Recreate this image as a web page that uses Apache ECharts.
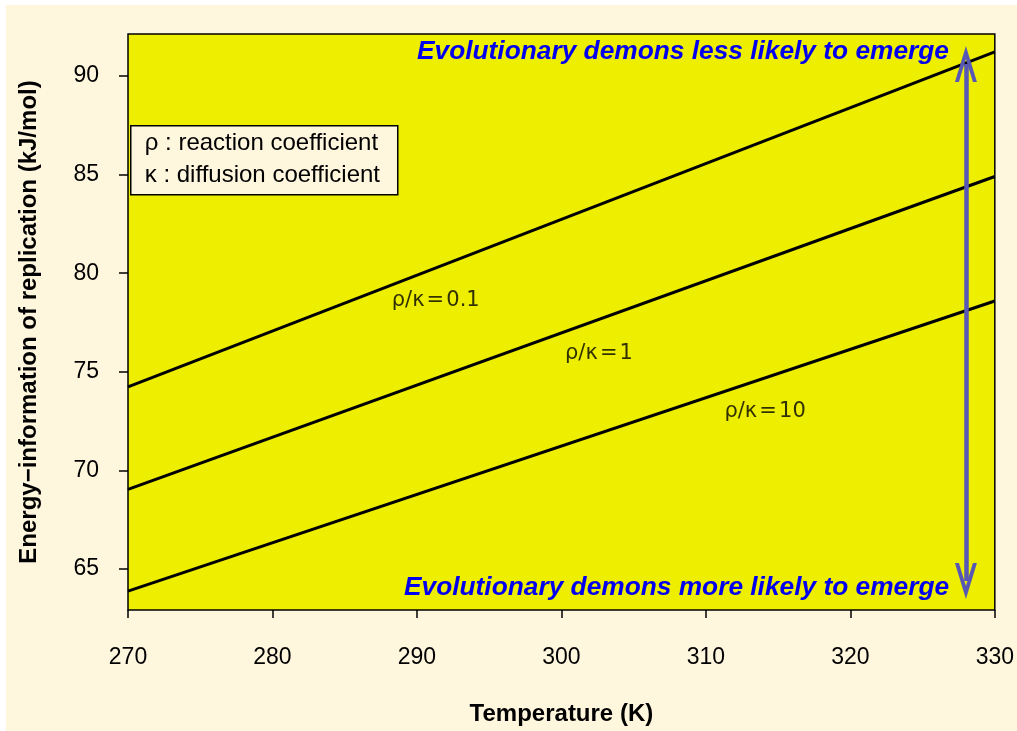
<!DOCTYPE html>
<html>
<head>
<meta charset="utf-8">
<script src="https://cdn.jsdelivr.net/npm/echarts@6/dist/echarts.min.js"></script>
<style>
  html, body { margin: 0; padding: 0; background: #ffffff; }
  #chart { width: 1017px; height: 731px; }
</style>
</head>
<body>
<div id="chart"></div>
<script>
// data
const temps = [270, 330];
const energyRatio01 = [74.24, 91.21];
const energyRatio1 = [69.04, 84.9];
const energyRatio10 = [63.89, 78.59];
const ratioNames = ['ρ/κ\u200a=\u200a0.1', 'ρ/κ\u200a=\u200a1', 'ρ/κ\u200a=\u200a10'];
const yTicks = [65, 70, 75, 80, 85, 90];
const xTicks = [270, 280, 290, 300, 310, 320, 330];

// annotation anchors (data coordinates)
const labelTemps = [291.3, 302.6, 314.1];
const labelEnergies = [78.6, 75.95, 73.0];
const arrowTemp = 328;
const arrowEnds = [64.4, 90.6];

const chart = echarts.init(document.getElementById('chart'));

const chevron = 'path://M11,0 L22,36 L18,36 L11,13 L4,36 L0,36 Z';
const arrowColor = '#5757B5';
const sans = '"Liberation Sans", Arial, sans-serif';

function lineSeries(name, values) {
    return {
        name: name,
        type: 'line',
        data: temps.map(function (t, i) { return [t, values[i]]; }),
        symbol: 'none',
        lineStyle: { color: '#000', width: 3 },
        silent: true,
        z: 3
    };
}

const option = {
    animation: false,
    backgroundColor: '#ffffff',
    graphic: [
        {
            type: 'rect',
            left: 6, top: 5,
            shape: { width: 1011, height: 726 },
            style: { fill: '#FFF6DE' },
            z: -10, silent: true
        },
        {
            type: 'group',
            left: 130, top: 125,
            z: 100,
            children: [
                {
                    type: 'rect',
                    shape: { width: 267, height: 69 },
                    style: { fill: '#FFF6DE', stroke: '#000', lineWidth: 1.5 }
                },
                {
                    type: 'text', left: 14, top: 6,
                    style: { text: 'ρ : reaction coefficient', font: '24px ' + sans, fill: '#000' }
                },
                {
                    type: 'text', left: 14, top: 38,
                    style: { text: 'κ : diffusion coefficient', font: '24px ' + sans, fill: '#000' }
                }
            ]
        },
        {
            type: 'text', left: 417, top: 39, z: 100,
            style: { text: 'Evolutionary demons less likely to emerge', font: 'italic bold 26.3px ' + sans, fill: '#0000EE' }
        },
        {
            type: 'text', left: 404, top: 575, z: 100,
            style: { text: 'Evolutionary demons more likely to emerge', font: 'italic bold 26.3px ' + sans, fill: '#0000EE' }
        }
    ],
    grid: {
        left: 128, right: 19, top: 34, bottom: 119,
        show: true,
        backgroundColor: '#EEEE00',
        borderColor: '#000',
        borderWidth: 1.5
    },
    xAxis: {
        type: 'value',
        min: 270, max: 330, interval: 10,
        name: 'Temperature (K)',
        nameLocation: 'middle',
        nameGap: 92,
        nameTextStyle: { fontFamily: sans, fontWeight: 'bold', fontSize: 24, color: '#000' },
        axisLine: { show: false },
        axisTick: { show: true, length: 8, lineStyle: { color: '#000', width: 1.5 }, customValues: xTicks },
        axisLabel: { fontFamily: sans, fontSize: 23, color: '#000', margin: 36, customValues: xTicks },
        splitLine: { show: false }
    },
    yAxis: {
        type: 'value',
        min: 62.93, max: 92.12,
        name: 'Energy\u2212information of replication (kJ/mol)',
        nameLocation: 'middle',
        nameGap: 87,
        nameTextStyle: { fontFamily: sans, fontWeight: 'bold', fontSize: 24, color: '#000' },
        axisLine: { show: false },
        axisTick: { show: true, length: 9, lineStyle: { color: '#000', width: 1.5 }, customValues: yTicks },
        axisLabel: { fontFamily: sans, fontSize: 23, color: '#000', margin: 29, padding: [5, 0, 0, 0], customValues: yTicks },
        splitLine: { show: false }
    },
    series: [
        lineSeries(ratioNames[0], energyRatio01),
        lineSeries(ratioNames[1], energyRatio1),
        lineSeries(ratioNames[2], energyRatio10),
        {
            name: 'labels',
            type: 'scatter',
            silent: true,
            symbolSize: 1,
            itemStyle: { color: 'rgba(0,0,0,0)' },
            data: ratioNames.map(function (n, i) {
                return { name: n, value: [labelTemps[i], labelEnergies[i]] };
            }),
            label: {
                show: true,
                position: 'inside',
                formatter: '{b}',
                fontFamily: '"DejaVu Sans", sans-serif',
                fontSize: 21,
                color: '#000'
            },
            markLine: {
                silent: true,
                symbol: [chevron, chevron],
                label: { show: false },
                lineStyle: { color: arrowColor, width: 4.5, type: 'solid' },
                emphasis: { disabled: true },
                data: [[
                    { coord: [arrowTemp, arrowEnds[0]], symbolSize: [22, 36] },
                    { coord: [arrowTemp, arrowEnds[1]], symbolSize: [22, 36] }
                ]]
            },
            z: 4
        }
    ]
};

chart.setOption(option);
window.addEventListener('resize', function () { chart.resize(); });
</script>
</body>
</html>
